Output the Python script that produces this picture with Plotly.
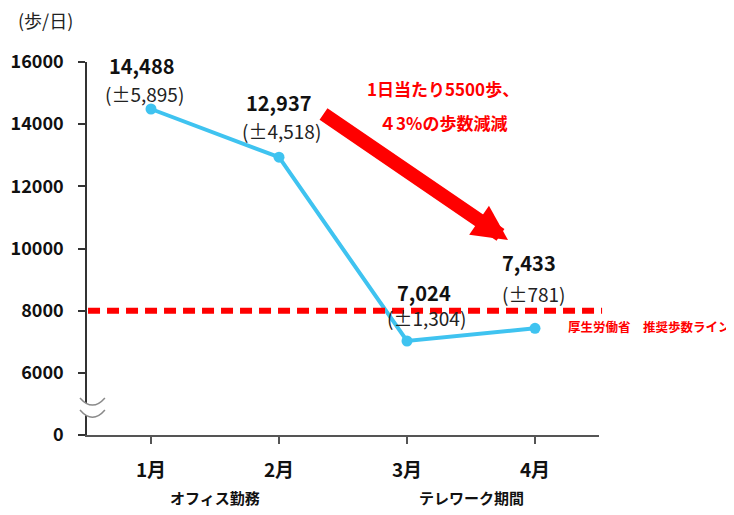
import plotly.graph_objects as go

# ---- data ----
months = ["1月", "2月", "3月", "4月"]
steps = [14488, 12937, 7024, 7433]
sd = [5895, 4518, 1304, 781]
y_tickvals = [4000, 6000, 8000, 10000, 12000, 14000, 16000]
y_ticktext = ["0", "6000", "8000", "10000", "12000", "14000", "16000"]
recommended = 8000
period_labels = ["オフィス勤務", "テレワーク期間"]
period_centers = [0.5, 2.5]
title_text = "(歩/日)"
line_label = "厚生労働省　推奨歩数ライン"
arrow_lines = ["1日当たり5500歩、", "４3%の歩数減減"]

FONT = "Noto Sans CJK JP"
BLUE = "#3FC3F0"
RED = "#FF0000"

# label pixel offsets (styling)
main_off = [(-9, 44), (0, 55), (17, 49), (-6, 66)]
sd_off = [(-7, 16), (2, 27), (19, 24), (-2, 35)]
arrow_text_off = [(36, 222), (36, 188)]

fig = go.Figure()
fig.add_trace(go.Scatter(
    x=months, y=steps, mode="lines+markers",
    line=dict(color=BLUE, width=4),
    marker=dict(color=BLUE, size=11),
    hoverinfo="skip", showlegend=False,
))

ann = []
for i, (m, v, s) in enumerate(zip(months, steps, sd)):
    ann.append(dict(x=m, y=v, xref="x", yref="y", text=f"<b>{v:,}</b>",
                    showarrow=False, xshift=main_off[i][0], yshift=main_off[i][1],
                    font=dict(family=FONT, size=20, color="#111111")))
    ann.append(dict(x=m, y=v, xref="x", yref="y", text=f"(±{s:,})",
                    showarrow=False, xshift=sd_off[i][0], yshift=sd_off[i][1],
                    font=dict(family=FONT, size=19, color="#222222")))

for lab, cx in zip(period_labels, period_centers):
    ann.append(dict(x=cx, y=0, xref="x", yref="paper", text=f"<b>{lab}</b>",
                    showarrow=False, yshift=-62, yanchor="middle",
                    font=dict(family=FONT, size=15, color="#111111")))

ann.append(dict(x=-0.138, y=1.113, xref="paper", yref="paper", text=title_text,
                showarrow=False, xanchor="left", yanchor="middle",
                font=dict(family=FONT, size=18, color="#222222")))

ann.append(dict(x=0.9355, y=recommended, xref="paper", yref="y", text=f"<b>{line_label}</b>",
                showarrow=False, xanchor="left", yanchor="middle", yshift=-16,
                font=dict(family=FONT, size=12.5, color=RED)))

for t, (dx, dy) in zip(arrow_lines, arrow_text_off):
    ann.append(dict(x=2.0, y=recommended, xref="x", yref="y", text=f"<b>{t}</b>",
                    showarrow=False, xanchor="center", yanchor="middle",
                    xshift=dx, yshift=dy,
                    font=dict(family=FONT, size=17, color=RED)))

# big red arrow
ann.append(dict(x=2.789, y=10273, xref="x", yref="y", ax=1.336, ay=14359,
                axref="x", ayref="y", text="", showarrow=True,
                arrowhead=2, arrowsize=0.5, arrowwidth=14, arrowcolor=RED, standoff=0))

shapes = [
    dict(type="line", xref="paper", yref="y", x0=0.002, x1=1.006, y0=recommended, y1=recommended,
         line=dict(color=RED, width=6, dash="12px,7px"), layer="above"),
    # axis break marks
    dict(type="path", xref="paper", yref="paper",
         path="M -0.0137,0.0992 Q 0.0107,0.061 0.035,0.0992 L 0.035,0.067 Q 0.0107,0.028 -0.0137,0.067 Z",
         fillcolor="white", line=dict(width=0), layer="above"),
    dict(type="path", xref="paper", yref="paper",
         path="M -0.0137,0.0992 Q 0.0107,0.061 0.035,0.0992",
         line=dict(color="#8a8a8a", width=1.5), layer="above"),
    dict(type="path", xref="paper", yref="paper",
         path="M -0.0137,0.067 Q 0.0107,0.028 0.035,0.067",
         line=dict(color="#8a8a8a", width=1.5), layer="above"),
]

fig.update_layout(
    width=726, height=507,
    margin=dict(l=79, r=135, t=54, b=80, autoexpand=False),
    paper_bgcolor="white", plot_bgcolor="white",
    annotations=ann, shapes=shapes,
    xaxis=dict(range=[-0.5, 3.5], showgrid=False, zeroline=False, automargin=False,
               showline=True, linecolor="#555555", linewidth=1.5,
               ticks="outside", ticklen=7, tickcolor="#555555", tickwidth=1.5,
               tickfont=dict(family=FONT, size=19, color="#111111"),
               ticklabelstandoff=10,
               tickvals=[0, 1, 2, 3], ticktext=[f"<b>{m}</b>" for m in months]),
    yaxis=dict(range=[4000, 16000], showgrid=False, zeroline=False, automargin=False,
               showline=True, linecolor="#333333", linewidth=1.5,
               ticks="outside", ticklen=7, tickcolor="#333333", tickwidth=1.5,
               tickvals=y_tickvals, ticktext=[f"<b>{t}</b>" for t in y_ticktext],
               tickfont=dict(family=FONT, size=18, color="#111111"),
               ticklabelstandoff=11),
)

fig.write_html("out.html")
